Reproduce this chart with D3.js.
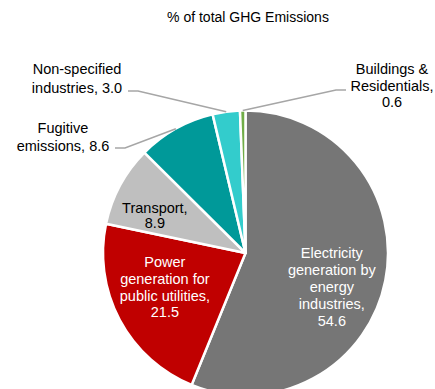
<!DOCTYPE html>
<html><head><meta charset="utf-8">
<script src="https://cdn.jsdelivr.net/npm/d3@7"></script>
<style>body{margin:0;background:#fff}svg{display:block}text{font-family:"Liberation Sans",Arial,sans-serif}</style>
</head><body>
<svg id="c" width="435" height="389"></svg>
<script>
const categories = ["Electricity generation by energy industries","Power generation for public utilities","Transport","Fugitive emissions","Non-specified industries","Buildings & Residentials"];
const values = [54.6, 21.5, 8.9, 8.6, 3.0, 0.6];
const labelLines = [
  ["Electricity","generation by","energy","industries,","54.6"],
  ["Power","generation for","public utilities,","21.5"],
  ["Transport,","8.9"],
  ["Fugitive","emissions, 8.6"],
  ["Non-specified","industries, 3.0"],
  ["Buildings &","Residentials,","0.6"]
];
const colors = ["#767676","#c00000","#bfbfbf","#009999","#33cccc","#70ad47"];
const title = "% of total GHG Emissions";

const FS = 14.5;
const svg = d3.select("#c");
const cx = 245.5, cy = 253, R = 142.5;
svg.append("text").attr("x",248).attr("y",22).attr("text-anchor","middle")
  .attr("font-size",14).attr("fill","#000").text(title);

const data = categories.map((c,i)=>({cat:c,value:values[i],lines:labelLines[i],color:colors[i]}));
const pie = d3.pie().sort(null).value(d=>d.value);
const arcs = pie(data);
const arc = d3.arc().innerRadius(0).outerRadius(R);
const g = svg.append("g").attr("transform",`translate(${cx},${cy})`);
g.selectAll("path").data(arcs).join("path").attr("d",arc)
  .attr("fill",d=>d.data.color).attr("stroke","#fff").attr("stroke-width",2.5).attr("stroke-linejoin","round");

// inside labels (centroid plus layout offset)
const inner = {
  0:{r:88,fill:"#fff",dx:0,dy:17,sp:17},
  1:{r:89,fill:"#fff",dx:-2,dy:-7.5,sp:16.8},
  2:{r:95,fill:"#000",dx:-7,dy:7.5,sp:15}
};
Object.keys(inner).forEach(k=>{
  const a = arcs[+k]; const o = inner[k];
  const la = d3.arc().innerRadius(o.r).outerRadius(o.r);
  const [x0,y0] = la.centroid(a);
  const x = x0+o.dx, y = y0+o.dy;
  const n = a.data.lines.length;
  const t = g.append("text").attr("text-anchor","middle").attr("font-size",FS).attr("fill",o.fill);
  a.data.lines.forEach((l,j)=>{
    t.append("tspan").attr("x",x).attr("y",y+(j-(n-1)/2)*o.sp+5).text(l);
  });
});

// outside labels with leader lines (layout in page coords)
const outside = {
  3:{tx:63, ty:133, sp:17.5, elbow:[[115,148],[125,148]]},
  4:{tx:77, ty:74, sp:18.5, elbow:[[128,91],[138,91]]},
  5:{tx:392, ty:74, sp:16.5, elbow:[[346,90],[336,90]]}
};
Object.keys(outside).forEach(k=>{
  const a = arcs[+k]; const o = outside[k];
  const la = d3.arc().innerRadius(R).outerRadius(R);
  const [ex,ey] = la.centroid(a);
  const pts = [o.elbow[0],o.elbow[1],[ex+cx,ey+cy]];
  svg.append("path").attr("d",d3.line()(pts)).attr("fill","none").attr("stroke","#a6a6a6").attr("stroke-width",1.5);
  const t = svg.append("text").attr("text-anchor","middle").attr("font-size",FS).attr("fill","#000");
  a.data.lines.forEach((l,j)=>{
    t.append("tspan").attr("x",o.tx).attr("y",o.ty+j*o.sp).text(l);
  });
});
</script>
</body></html>
